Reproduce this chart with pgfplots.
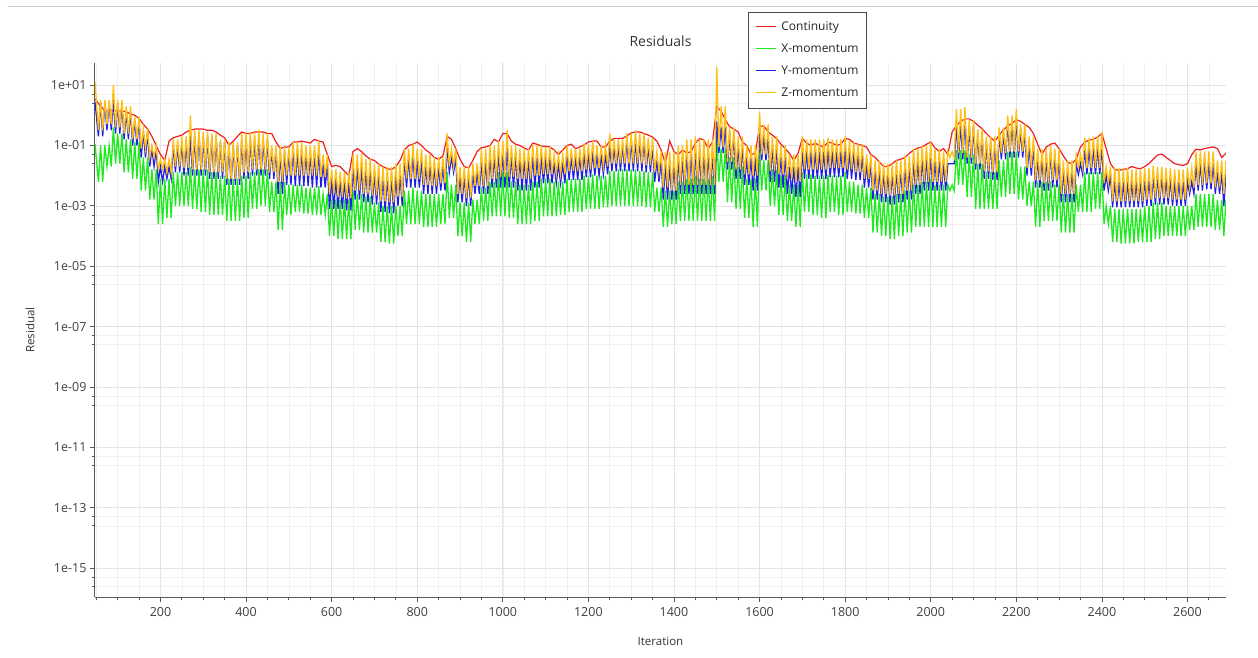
\documentclass[border=0pt]{standalone}
\usepackage{pgfplots}
\pgfplotsset{compat=1.18}
\usepackage{pgfplotstable}
\usepackage{fontspec}
\setmainfont{Open Sans}
\definecolor{cRed}{RGB}{240,30,30}
\definecolor{cGreen}{RGB}{30,235,30}
\definecolor{cBlue}{RGB}{30,30,230}
\definecolor{cOrange}{RGB}{255,190,20}
% Continuity residual
\pgfplotstableread{
it cont
47 3.5
60 2
70 1.4
80 1.4
90 1.4
100 1.4
110 1.4
120 1.3
130 1.1
140 1
150 7.9e-1
160 5e-1
170 3.5e-1
180 2e-1
190 1e-1
200 5e-2
210 3.2e-2
220 1.4e-1
230 1.8e-1
240 2e-1
250 2.2e-1
260 2.8e-1
270 3.2e-1
280 3.5e-1
290 3.5e-1
300 3.5e-1
310 3.2e-1
320 3.2e-1
330 2.8e-1
340 2.2e-1
350 1.8e-1
360 1e-1
370 1.4e-1
380 2e-1
390 2.8e-1
400 2.5e-1
410 2.5e-1
420 2.8e-1
430 2.8e-1
440 2.8e-1
450 2.5e-1
460 2.5e-1
470 1.3e-1
480 7.9e-2
490 8.9e-2
500 8.9e-2
510 1.3e-1
520 1.3e-1
530 1.4e-1
540 1.3e-1
550 1.2e-1
560 1.6e-1
570 1.4e-1
580 1.3e-1
590 5e-2
600 2e-2
610 2.2e-2
620 2e-2
630 1.4e-2
640 1e-2
650 6.3e-2
660 7.9e-2
670 6.3e-2
680 4.5e-2
690 3.5e-2
700 3.2e-2
710 2.4e-2
720 2e-2
730 1.7e-2
740 1.6e-2
750 2e-2
760 3.2e-2
770 7.1e-2
780 1e-1
790 1.1e-1
800 1.3e-1
810 1e-1
820 7.1e-2
830 5.6e-2
840 4e-2
850 3.5e-2
860 4.5e-2
870 2e-1
880 1.6e-1
890 7.9e-2
900 3.5e-2
910 2e-2
920 1.8e-2
930 3.2e-2
940 6.3e-2
950 8.5e-2
960 8.9e-2
970 1e-1
980 1.6e-1
990 1.3e-1
1000 2.5e-1
1010 2.5e-1
1020 1.4e-1
1030 1.1e-1
1040 1e-1
1050 8.3e-2
1060 7.1e-2
1070 1.2e-1
1080 1.1e-1
1090 9.5e-2
1100 9.5e-2
1110 8.9e-2
1120 7.1e-2
1130 5e-2
1140 7.1e-2
1150 1e-1
1160 1.1e-1
1170 7.9e-2
1180 8.9e-2
1190 1.05e-1
1200 1.3e-1
1210 1.4e-1
1220 1.4e-1
1230 8.9e-2
1240 8.9e-2
1250 1.4e-1
1260 1.7e-1
1270 1.7e-1
1280 1.7e-1
1290 2.1e-1
1300 2.6e-1
1310 2.8e-1
1320 2.8e-1
1330 2.5e-1
1340 2.2e-1
1350 1.9e-1
1360 1.4e-1
1370 7.1e-2
1380 2.5e-2
1390 1.4e-1
1400 6.3e-2
1410 5e-2
1420 7.1e-2
1430 5.6e-2
1440 6.3e-2
1450 1.2e-1
1460 1.7e-1
1470 1.5e-1
1480 7.9e-2
1490 1.3e-1
1500 1.9
1510 1.4
1520 7.1e-1
1530 4.2e-1
1540 3.5e-1
1550 2.8e-1
1560 1.3e-1
1570 1e-1
1580 5e-2
1590 5.6e-2
1600 4.2e-1
1610 4.5e-1
1620 2.8e-1
1630 2.2e-1
1640 1.7e-1
1650 1.1e-1
1660 7.9e-2
1670 5.4e-2
1680 3.2e-2
1690 5.6e-2
1700 1.7e-1
1710 1.2e-1
1720 1e-1
1730 1.2e-1
1740 1e-1
1750 8.9e-2
1760 1.3e-1
1770 1.2e-1
1780 1e-1
1790 1.1e-1
1800 1.7e-1
1810 1.6e-1
1820 1.2e-1
1830 1.1e-1
1840 1e-1
1850 8.9e-2
1860 5e-2
1870 4e-2
1880 2.8e-2
1890 2e-2
1900 2e-2
1910 2.5e-2
1920 3.2e-2
1930 3.5e-2
1940 4e-2
1950 5.5e-2
1960 7.1e-2
1970 8.3e-2
1980 8.9e-2
1990 1.1e-1
2000 1.3e-1
2010 8.3e-2
2020 6.3e-2
2030 7.9e-2
2040 5e-2
2050 2.8e-1
2060 4.5e-1
2070 6.3e-1
2080 7.6e-1
2090 7.6e-1
2100 6.3e-1
2110 4.7e-1
2120 3.6e-1
2130 2.5e-1
2140 1.8e-1
2150 1.4e-1
2160 2.2e-1
2170 3.3e-1
2180 4.5e-1
2190 5.4e-1
2200 7.1e-1
2210 6.3e-1
2220 5e-1
2230 4e-1
2240 2.5e-1
2250 1.1e-1
2260 5e-2
2270 8.9e-2
2280 1.1e-1
2290 1.2e-1
2300 7.9e-2
2310 4.5e-2
2320 2.8e-2
2330 2.5e-2
2340 3.5e-2
2350 8.9e-2
2360 1.3e-1
2370 1.5e-1
2380 1.6e-1
2390 1.9e-1
2400 2.5e-1
2410 7.9e-2
2420 2.5e-2
2430 1.6e-2
2440 1.5e-2
2450 1.6e-2
2460 1.7e-2
2470 2e-2
2480 1.8e-2
2490 1.7e-2
2500 2e-2
2510 2.5e-2
2520 3.5e-2
2530 4.8e-2
2540 5.2e-2
2550 4e-2
2560 3.2e-2
2570 2.5e-2
2580 2.3e-2
2590 2.2e-2
2600 2.5e-2
2610 5e-2
2620 7.6e-2
2630 7.1e-2
2640 7.9e-2
2650 8.5e-2
2660 8.9e-2
2670 7.9e-2
2680 4e-2
2690 5.6e-2
}\contres
% Momentum residuals
\pgfplotstableread{
it xmom ymom zmom
47 1.1e-1 2.8 13
55 6.3e-3 2e-1 3.2e-1
60 1e-1 2.8 3.2
65 6.3e-3 2e-1 3.2e-1
70 1e-1 2.8 3.2
75 2e-2 3.2e-1 5e-1
80 1e-1 2.8 3.2
85 2e-2 3.2e-1 5e-1
90 4e-1 3.2 10
95 2.5e-2 2.5e-1 4e-1
100 2.5e-1 2.5 3.2
105 2.5e-2 2.5e-1 4e-1
110 2.5e-1 2.5 3.2
115 1.3e-2 1.6e-1 2.5e-1
120 1.6e-1 1.4 2
125 1.3e-2 1.6e-1 2.5e-1
130 1.6e-1 1.4 2
135 7.9e-3 1e-1 1.6e-1
140 1.3e-1 7.1e-1 8.9e-1
145 7.9e-3 1e-1 1.6e-1
150 1.3e-1 7.1e-1 8.9e-1
155 3.2e-3 4e-2 7.9e-2
160 4e-2 2.8e-1 3.5e-1
165 3.2e-3 4e-2 7.9e-2
170 4e-2 2.8e-1 3.5e-1
175 1.6e-3 2e-2 4e-2
180 1.6e-2 7.9e-2 1e-1
185 1.6e-3 2e-2 4e-2
190 1.6e-2 7.9e-2 1e-1
195 2.5e-4 6.3e-3 1.6e-2
200 7.9e-3 2e-2 3.5e-2
205 2.5e-4 6.3e-3 1.6e-2
210 7.9e-3 2e-2 3.5e-2
215 4e-4 7.9e-3 1.3e-2
220 7.9e-3 2e-2 3.5e-2
225 4e-4 7.9e-3 1.3e-2
230 1.3e-2 1e-1 1.6e-1
235 1e-3 1.3e-2 2e-2
240 1.3e-2 1e-1 1.6e-1
245 1e-3 1.3e-2 2e-2
250 1.3e-2 1.3e-1 2e-1
255 1e-3 1e-2 1.8e-2
260 1.3e-2 1.3e-1 2e-1
265 1e-3 1e-2 1.8e-2
270 2e-2 2e-1 1
275 7.9e-4 1e-2 1.6e-2
280 1.6e-2 2e-1 3.2e-1
285 7.9e-4 1e-2 1.6e-2
290 1.6e-2 2.5e-1 3.2e-1
295 6.3e-4 1e-2 1.6e-2
300 1.6e-2 2e-1 2.8e-1
305 6.3e-4 1e-2 1.6e-2
310 1.6e-2 2e-1 2.8e-1
315 5e-4 7.9e-3 1.3e-2
320 1.3e-2 2e-1 2.5e-1
325 5e-4 7.9e-3 1.3e-2
330 1.3e-2 2e-1 2.5e-1
335 5e-4 7.9e-3 1.3e-2
340 1e-2 1.3e-1 1.6e-1
345 5e-4 7.9e-3 1.3e-2
350 1e-2 1.3e-1 1.6e-1
355 3.2e-4 5e-3 7.9e-3
360 7.9e-3 1e-1 1.3e-1
365 3.2e-4 5e-3 7.9e-3
370 7.9e-3 1e-1 1.3e-1
375 3.2e-4 5e-3 7.9e-3
380 7.9e-3 1e-1 1.3e-1
385 3.2e-4 5e-3 7.9e-3
390 1e-2 1.6e-1 2.5e-1
395 4e-4 7.9e-3 1.3e-2
400 1e-2 1.6e-1 2.5e-1
405 4e-4 7.9e-3 1.3e-2
410 1.3e-2 1.6e-1 2.8e-1
415 7.9e-4 1e-2 1.6e-2
420 1.3e-2 1.6e-1 2.8e-1
425 7.9e-4 1e-2 1.6e-2
430 1.6e-2 2e-1 3.2e-1
435 1e-3 1e-2 1.6e-2
440 1.6e-2 1.6e-1 2.5e-1
445 1e-3 1e-2 1.6e-2
450 1.6e-2 1.6e-1 2.5e-1
455 6.3e-4 7.9e-3 1.3e-2
460 6.3e-3 7.9e-2 1e-1
465 6.3e-4 7.9e-3 1.3e-2
470 6.3e-3 7.9e-2 1e-1
475 1.6e-4 2.5e-3 6.3e-3
480 6.3e-3 6.3e-2 8.9e-2
485 1.6e-4 2.5e-3 6.3e-3
490 6.3e-3 6.3e-2 8.9e-2
495 5e-4 5e-3 1e-2
500 5e-3 6.3e-2 8.9e-2
505 5e-4 5e-3 1e-2
510 5e-3 7.9e-2 1.3e-1
515 6.3e-4 4.5e-3 1e-2
520 5e-3 7.1e-2 1.3e-1
525 6.3e-4 4.5e-3 1e-2
530 5e-3 7.1e-2 1.3e-1
535 5.6e-4 4.5e-3 1e-2
540 4e-3 6.3e-2 1e-1
545 5.6e-4 4.5e-3 1e-2
550 4e-3 6.3e-2 1e-1
555 5e-4 4e-3 1e-2
560 4e-3 6.3e-2 1e-1
565 5e-4 4e-3 1e-2
570 4.5e-3 7.1e-2 1.4e-1
575 5e-4 4e-3 8.9e-3
580 2.5e-3 2.5e-2 5e-2
585 5e-4 4e-3 8.9e-3
590 2.5e-3 2.5e-2 5e-2
595 1e-4 7.9e-4 2.5e-3
600 1.6e-3 7.9e-3 1.6e-2
605 1e-4 7.9e-4 2.5e-3
610 1.6e-3 7.9e-3 1.6e-2
615 7.9e-5 7.9e-4 2e-3
620 1.6e-3 7.1e-3 1.3e-2
625 7.9e-5 7.9e-4 2e-3
630 1.6e-3 7.1e-3 1.3e-2
635 7.9e-5 7.1e-4 1.8e-3
640 1.6e-3 7.1e-3 1.3e-2
645 7.9e-5 7.1e-4 1.8e-3
650 3.2e-3 2e-2 5e-2
655 1.6e-4 1.6e-3 3.2e-3
660 2.5e-3 2e-2 5e-2
665 1.6e-4 1.6e-3 3.2e-3
670 2.5e-3 2e-2 5.6e-2
675 1.3e-4 1.3e-3 2.5e-3
680 2e-3 1.6e-2 3.5e-2
685 1.3e-4 1.3e-3 2.5e-3
690 2e-3 1.6e-2 3.5e-2
695 1.3e-4 1.1e-3 2.2e-3
700 1.3e-3 1.3e-2 2.5e-2
705 1.3e-4 1.1e-3 2.2e-3
710 1.3e-3 1.3e-2 2.5e-2
715 6.3e-5 6.3e-4 1.4e-3
720 1e-3 1e-2 2e-2
725 6.3e-5 6.3e-4 1.4e-3
730 1e-3 1e-2 2e-2
735 5.6e-5 5.6e-4 1.3e-3
740 1e-3 1e-2 2e-2
745 5.6e-5 5.6e-4 1.3e-3
750 1e-3 1e-2 2.5e-2
755 1e-4 1e-3 2e-3
760 1e-3 1e-2 2.5e-2
765 1e-4 1e-3 2e-3
770 3.2e-3 4e-2 7.9e-2
775 2.5e-4 4e-3 7.9e-3
780 3.2e-3 4e-2 7.9e-2
785 2.5e-4 4e-3 7.9e-3
790 4e-3 5e-2 1.1e-1
795 2.5e-4 4e-3 7.9e-3
800 3.2e-3 3.2e-2 7.9e-2
805 2.5e-4 4e-3 7.9e-3
810 3.2e-3 3.2e-2 7.9e-2
815 2e-4 2.5e-3 5e-3
820 2.5e-3 2.5e-2 5e-2
825 2e-4 2.5e-3 5e-3
830 2.5e-3 2.5e-2 5e-2
835 2e-4 2.5e-3 4.5e-3
840 2.5e-3 2e-2 4e-2
845 2e-4 2.5e-3 4.5e-3
850 2.5e-3 2e-2 4e-2
855 2.5e-4 3.2e-3 5.6e-3
860 2.5e-3 2e-2 4e-2
865 2.5e-4 3.2e-3 5.6e-3
870 1.3e-2 1e-1 2.5e-1
875 4e-4 1.3e-2 2e-2
880 5e-3 4e-2 7.9e-2
885 4e-4 1.3e-2 2e-2
890 5e-3 4e-2 7.9e-2
895 1e-4 1.3e-3 2.5e-3
900 1.3e-3 1e-2 2e-2
905 1e-4 1.3e-3 2.5e-3
910 1.3e-3 1e-2 2e-2
915 6.3e-5 1e-3 1.8e-3
920 1.3e-3 1e-2 2e-2
925 6.3e-5 1e-3 1.8e-3
930 1.6e-3 1.3e-2 2.5e-2
935 2.5e-4 2.5e-3 4.5e-3
940 1.6e-3 1.3e-2 2.5e-2
945 2.5e-4 2.5e-3 4.5e-3
950 4e-3 3.2e-2 7.9e-2
955 3.2e-4 2.5e-3 4.5e-3
960 4e-3 3.2e-2 7.9e-2
965 3.2e-4 2.5e-3 4.5e-3
970 6.3e-3 5e-2 1e-1
975 4.5e-4 4e-3 7.9e-3
980 6.3e-3 5e-2 1e-1
985 4.5e-4 4e-3 7.9e-3
990 1.3e-2 6.3e-2 1.4e-1
995 4.5e-4 4e-3 8.9e-3
1000 1.3e-2 6.3e-2 1.4e-1
1005 4.5e-4 4e-3 8.9e-3
1010 1.3e-2 1e-1 3.2e-1
1015 4e-4 4e-3 8.9e-3
1020 6.3e-3 5e-2 1e-1
1025 4e-4 4e-3 8.9e-3
1030 6.3e-3 5e-2 1e-1
1035 2.5e-4 3.2e-3 7.9e-3
1040 5e-3 4e-2 7.9e-2
1045 2.5e-4 3.2e-3 7.9e-3
1050 5e-3 4e-2 7.9e-2
1055 2.5e-4 3.2e-3 7.9e-3
1060 5e-3 4e-2 7.9e-2
1065 2.5e-4 3.2e-3 7.9e-3
1070 6.3e-3 5e-2 1.1e-1
1075 3.2e-4 4e-3 1e-2
1080 6.3e-3 4.5e-2 1e-1
1085 3.2e-4 4e-3 1e-2
1090 7.9e-3 4.5e-2 1e-1
1095 4.5e-4 5.6e-3 1.1e-2
1100 7.9e-3 4e-2 8.9e-2
1105 4.5e-4 5.6e-3 1.1e-2
1110 7.9e-3 4e-2 8.9e-2
1115 4.5e-4 5.6e-3 1.1e-2
1120 6.3e-3 2.5e-2 5e-2
1125 4.5e-4 5.6e-3 1.1e-2
1130 6.3e-3 2.5e-2 5e-2
1135 5e-4 5.6e-3 1.1e-2
1140 6.3e-3 2.5e-2 5e-2
1145 5e-4 5.6e-3 1.1e-2
1150 7.9e-3 5e-2 1e-1
1155 6.3e-4 7.1e-3 1.4e-2
1160 7.9e-3 4.5e-2 7.9e-2
1165 6.3e-4 7.1e-3 1.4e-2
1170 7.9e-3 4.5e-2 7.9e-2
1175 6.3e-4 7.1e-3 1.4e-2
1180 7.9e-3 4.5e-2 7.9e-2
1185 6.3e-4 7.1e-3 1.4e-2
1190 1e-2 5.6e-2 1.1e-1
1195 7.9e-4 8.9e-3 1.6e-2
1200 1e-2 5.6e-2 1.1e-1
1205 7.9e-4 8.9e-3 1.6e-2
1210 1.1e-2 6.3e-2 1.4e-1
1215 7.9e-4 1e-2 1.8e-2
1220 1e-2 5e-2 1e-1
1225 7.9e-4 1e-2 1.8e-2
1230 1e-2 5e-2 1e-1
1235 8.9e-4 1.1e-2 2e-2
1240 1e-2 5e-2 1e-1
1245 8.9e-4 1.1e-2 2e-2
1250 1.4e-2 1e-1 2.5e-1
1255 1e-3 1.4e-2 2.5e-2
1260 1.4e-2 1e-1 1.6e-1
1265 1e-3 1.4e-2 2.5e-2
1270 1.6e-2 1.1e-1 1.6e-1
1275 1e-3 1.4e-2 2.5e-2
1280 1.6e-2 1.1e-1 1.6e-1
1285 1e-3 1.4e-2 2.5e-2
1290 1.6e-2 1.6e-1 2.5e-1
1295 1e-3 1.4e-2 2.5e-2
1300 1.6e-2 1.6e-1 2.5e-1
1305 1e-3 1.4e-2 2.5e-2
1310 1.6e-2 1.6e-1 3.2e-1
1315 1e-3 1.4e-2 2.5e-2
1320 1.4e-2 1.6e-1 2.5e-1
1325 1e-3 1.4e-2 2.5e-2
1330 1.4e-2 1.6e-1 2.5e-1
1335 8.9e-4 1.3e-2 2.2e-2
1340 1.3e-2 1e-1 1.8e-1
1345 8.9e-4 1.3e-2 2.2e-2
1350 1.3e-2 1e-1 1.8e-1
1355 6.3e-4 6.3e-3 1.3e-2
1360 4e-3 3.2e-2 6.3e-2
1365 6.3e-4 6.3e-3 1.3e-2
1370 4e-3 3.2e-2 6.3e-2
1375 2e-4 1.6e-3 4e-3
1380 3.2e-3 2.5e-2 6.3e-2
1385 2e-4 1.6e-3 4e-3
1390 3.2e-3 2.5e-2 6.3e-2
1395 2.5e-4 1.6e-3 3.2e-3
1400 3.2e-3 2.5e-2 6.3e-2
1405 2.5e-4 1.6e-3 3.2e-3
1410 6.3e-3 4e-2 1e-1
1415 3.2e-4 2.5e-3 5e-3
1420 6.3e-3 4e-2 1e-1
1425 3.2e-4 2.5e-3 5e-3
1430 7.9e-3 6.3e-2 1.6e-1
1435 3.2e-4 2.5e-3 5e-3
1440 7.9e-3 6.3e-2 1.6e-1
1445 3.2e-4 2.5e-3 5e-3
1450 1e-2 7.9e-2 2e-1
1455 3.2e-4 2.5e-3 5e-3
1460 7.9e-3 6.3e-2 1.6e-1
1465 3.2e-4 2.5e-3 5e-3
1470 7.9e-3 6.3e-2 1.6e-1
1475 3.2e-4 2.5e-3 5e-3
1480 7.9e-3 6.3e-2 1.6e-1
1485 3.2e-4 2.5e-3 5e-3
1490 1e-2 6.3e-2 1.6e-1
1495 3.2e-4 2.5e-3 5e-3
1500 2e-1 6.3e-1 40
1505 6.3e-3 5.6e-2 8.9e-2
1510 7.9e-2 4e-1 2
1515 6.3e-3 5.6e-2 8.9e-2
1520 7.9e-2 4e-1 2
1525 1.3e-3 1.6e-2 2.8e-2
1530 4e-2 2.5e-1 4e-1
1535 1.3e-3 1.6e-2 2.8e-2
1540 4e-2 2.5e-1 4e-1
1545 7.9e-4 7.9e-3 1.6e-2
1550 2e-2 1e-1 2e-1
1555 7.9e-4 7.9e-3 1.6e-2
1560 2e-2 1e-1 2e-1
1565 4e-4 5e-3 1.1e-2
1570 7.9e-3 4e-2 1e-1
1575 4e-4 5e-3 1.1e-2
1580 7.9e-3 4e-2 1e-1
1585 2e-4 3.2e-3 1e-2
1590 7.9e-3 4e-2 1e-1
1595 2e-4 3.2e-3 1e-2
1600 7.1e-2 2.5e-1 1.3
1605 3.2e-3 3.2e-2 5e-2
1610 3.2e-2 2e-1 5e-1
1615 3.2e-3 3.2e-2 5e-2
1620 3.2e-2 2e-1 5e-1
1625 1e-3 6.3e-3 1.4e-2
1630 1.6e-2 1e-1 2e-1
1635 1e-3 6.3e-3 1.4e-2
1640 1.6e-2 1e-1 2e-1
1645 5e-4 4e-3 1.1e-2
1650 1e-2 5e-2 1e-1
1655 5e-4 4e-3 1.1e-2
1660 1e-2 5e-2 1e-1
1665 3.2e-4 2.5e-3 7.9e-3
1670 5e-3 2e-2 5e-2
1675 3.2e-4 2.5e-3 7.9e-3
1680 5e-3 2e-2 5e-2
1685 2e-4 2e-3 6.3e-3
1690 5e-3 2e-2 5e-2
1695 2e-4 2e-3 6.3e-3
1700 1.3e-2 7.9e-2 2e-1
1705 6.3e-4 7.9e-3 1.6e-2
1710 1.1e-2 6.3e-2 1.6e-1
1715 6.3e-4 7.9e-3 1.6e-2
1720 1.1e-2 6.3e-2 1.6e-1
1725 5e-4 7.9e-3 1.6e-2
1730 1e-2 6.3e-2 1.6e-1
1735 5e-4 7.9e-3 1.6e-2
1740 1e-2 6.3e-2 1.6e-1
1745 4e-4 7.9e-3 1.6e-2
1750 1e-2 6.3e-2 1.6e-1
1755 4e-4 7.9e-3 1.6e-2
1760 1.1e-2 7.1e-2 1.8e-1
1765 6.3e-4 8.9e-3 1.8e-2
1770 1e-2 6.3e-2 1.6e-1
1775 6.3e-4 8.9e-3 1.8e-2
1780 1e-2 6.3e-2 1.6e-1
1785 5e-4 8.9e-3 1.8e-2
1790 1e-2 6.3e-2 1.6e-1
1795 5e-4 8.9e-3 1.8e-2
1800 1.3e-2 7.9e-2 2e-1
1805 6.3e-4 7.9e-3 1.6e-2
1810 6.3e-3 6.3e-2 1.4e-1
1815 6.3e-4 7.9e-3 1.6e-2
1820 6.3e-3 6.3e-2 1.4e-1
1825 5.6e-4 7.1e-3 1.3e-2
1830 5e-3 5e-2 1.1e-1
1835 5.6e-4 7.1e-3 1.3e-2
1840 5e-3 5e-2 1.1e-1
1845 4e-4 4e-3 7.9e-3
1850 4e-3 2.5e-2 5e-2
1855 4e-4 4e-3 7.9e-3
1860 4e-3 2.5e-2 5e-2
1865 1.3e-4 1.6e-3 3.2e-3
1870 2.5e-3 1.6e-2 3.2e-2
1875 1.3e-4 1.6e-3 3.2e-3
1880 2.5e-3 1.6e-2 3.2e-2
1885 1e-4 1.3e-3 2.5e-3
1890 2e-3 1.3e-2 2.5e-2
1895 1e-4 1.3e-3 2.5e-3
1900 2e-3 1.3e-2 2.5e-2
1905 7.9e-5 1.1e-3 2.2e-3
1910 2e-3 1.3e-2 2.5e-2
1915 7.9e-5 1.1e-3 2.2e-3
1920 2.5e-3 1.6e-2 3.2e-2
1925 1e-4 1.3e-3 2.5e-3
1930 2.5e-3 1.6e-2 3.2e-2
1935 1e-4 1.3e-3 2.5e-3
1940 3.2e-3 2e-2 4.5e-2
1945 1.3e-4 1.6e-3 3.2e-3
1950 3.2e-3 2e-2 4.5e-2
1955 1.3e-4 1.6e-3 3.2e-3
1960 5e-3 3.2e-2 7.9e-2
1965 2e-4 2.5e-3 5e-3
1970 5e-3 3.2e-2 7.9e-2
1975 2e-4 2.5e-3 5e-3
1980 6.3e-3 4e-2 1e-1
1985 2e-4 3.2e-3 6.3e-3
1990 6.3e-3 4e-2 1e-1
1995 2e-4 3.2e-3 6.3e-3
2000 7.9e-3 5e-2 1.3e-1
2005 2e-4 3.2e-3 6.3e-3
2010 5e-3 3.2e-2 7.9e-2
2015 2e-4 3.2e-3 6.3e-3
2020 5e-3 3.2e-2 7.9e-2
2025 2e-4 3.2e-3 6.3e-3
2030 5e-3 2.5e-2 6.3e-2
2035 2e-4 3.2e-3 6.3e-3
2040 5e-3 2.5e-2 6.3e-2
2045 3.2e-3 2.5e-2 4e-2
2050 5e-3 2.5e-2 6.3e-2
2055 3.2e-3 2.5e-2 4e-2
2060 7.1e-2 5e-1 1.6
2065 5e-3 3.5e-2 5.6e-2
2070 7.1e-2 5e-1 1.6
2075 5e-3 3.5e-2 5.6e-2
2080 7.1e-2 7.1e-1 1.9
2085 2e-3 2.5e-2 4e-2
2090 5e-2 4.5e-1 7.1e-1
2095 2e-3 2.5e-2 4e-2
2100 5e-2 4.5e-1 7.1e-1
2105 7.9e-4 1.6e-2 2.5e-2
2110 2.5e-2 2.5e-1 3.5e-1
2115 7.9e-4 1.6e-2 2.5e-2
2120 2.5e-2 2.5e-1 3.5e-1
2125 7.9e-4 7.9e-3 1.4e-2
2130 1.3e-2 1.3e-1 2e-1
2135 7.9e-4 7.9e-3 1.4e-2
2140 1.3e-2 1.3e-1 2e-1
2145 7.9e-4 7.1e-3 1.3e-2
2150 1.3e-2 1.3e-1 2e-1
2155 7.9e-4 7.1e-3 1.3e-2
2160 3.2e-2 2.5e-1 4e-1
2165 2e-3 3.5e-2 5.6e-2
2170 3.2e-2 2.5e-1 4e-1
2175 2e-3 3.5e-2 5.6e-2
2180 6.3e-2 6.3e-1 1
2185 2.5e-3 4e-2 6.3e-2
2190 6.3e-2 6.3e-1 1
2195 2.5e-3 4e-2 6.3e-2
2200 6.3e-2 7.9e-1 1.6
2205 1.6e-3 4e-2 6.3e-2
2210 2e-2 3.2e-1 5e-1
2215 1.6e-3 4e-2 6.3e-2
2220 2e-2 3.2e-1 5e-1
2225 1e-3 1e-2 1.8e-2
2230 6.3e-3 1e-1 2e-1
2235 1e-3 1e-2 1.8e-2
2240 6.3e-3 1e-1 2e-1
2245 2e-4 4e-3 7.1e-3
2250 6.3e-3 4e-2 7.9e-2
2255 2e-4 4e-3 7.1e-3
2260 6.3e-3 4e-2 7.9e-2
2265 3.2e-4 3.2e-3 5.6e-3
2270 6.3e-3 4e-2 7.9e-2
2275 3.2e-4 3.2e-3 5.6e-3
2280 6.3e-3 6.3e-2 1e-1
2285 3.2e-4 4e-3 7.1e-3
2290 5e-3 4e-2 7.9e-2
2295 3.2e-4 4e-3 7.1e-3
2300 5e-3 4e-2 7.9e-2
2305 1.3e-4 1.3e-3 2.5e-3
2310 2.5e-3 1.6e-2 3.2e-2
2315 1.3e-4 1.3e-3 2.5e-3
2320 2.5e-3 1.6e-2 3.2e-2
2325 1.3e-4 1.3e-3 2.5e-3
2330 2.5e-3 1.6e-2 3.2e-2
2335 1.3e-4 1.3e-3 2.5e-3
2340 5e-3 2.5e-2 5e-2
2345 6.3e-4 1.1e-2 1.8e-2
2350 5e-3 2.5e-2 5e-2
2355 6.3e-4 1.1e-2 1.8e-2
2360 1.3e-2 7.9e-2 1.8e-1
2365 6.3e-4 1.1e-2 1.8e-2
2370 1.3e-2 7.9e-2 1.8e-1
2375 6.3e-4 1.1e-2 1.8e-2
2380 1.3e-2 7.9e-2 2e-1
2385 7.9e-4 1.1e-2 1.8e-2
2390 1.3e-2 7.9e-2 2e-1
2395 7.9e-4 1.1e-2 1.8e-2
2400 1.3e-2 1e-1 2.8e-1
2405 2.5e-4 3.2e-3 5.6e-3
2410 1e-3 1e-2 2e-2
2415 2.5e-4 3.2e-3 5.6e-3
2420 1e-3 1e-2 2e-2
2425 6.3e-5 8.9e-4 1.4e-3
2430 7.9e-4 6.3e-3 1.8e-2
2435 6.3e-5 8.9e-4 1.4e-3
2440 7.9e-4 6.3e-3 1.8e-2
2445 5.6e-5 8.9e-4 1.4e-3
2450 7.9e-4 6.3e-3 1.8e-2
2455 5.6e-5 8.9e-4 1.4e-3
2460 7.9e-4 6.3e-3 1.8e-2
2465 5.6e-5 8.9e-4 1.4e-3
2470 7.9e-4 6.3e-3 1.6e-2
2475 5.6e-5 8.9e-4 1.4e-3
2480 7.9e-4 6.3e-3 1.6e-2
2485 6.3e-5 8.9e-4 1.4e-3
2490 7.9e-4 6.3e-3 1.6e-2
2495 6.3e-5 8.9e-4 1.4e-3
2500 1e-3 7.9e-3 1.8e-2
2505 6.3e-5 1e-3 1.6e-3
2510 1e-3 7.9e-3 1.8e-2
2515 6.3e-5 1e-3 1.6e-3
2520 1.3e-3 1e-2 2.2e-2
2525 7.9e-5 1.1e-3 1.8e-3
2530 1.3e-3 1e-2 2e-2
2535 7.9e-5 1.1e-3 1.8e-3
2540 1.3e-3 1e-2 2e-2
2545 1e-4 1.1e-3 1.8e-3
2550 1e-3 7.9e-3 1.8e-2
2555 1e-4 1.1e-3 1.8e-3
2560 1e-3 7.9e-3 1.8e-2
2565 1e-4 1e-3 1.6e-3
2570 1e-3 6.3e-3 1.6e-2
2575 1e-4 1e-3 1.6e-3
2580 1e-3 6.3e-3 1.6e-2
2585 1e-4 1e-3 1.6e-3
2590 1e-3 6.3e-3 1.6e-2
2595 1e-4 1e-3 1.6e-3
2600 1e-3 6.3e-3 1.8e-2
2605 1.6e-4 2.5e-3 4e-3
2610 1e-3 6.3e-3 1.8e-2
2615 1.6e-4 2.5e-3 4e-3
2620 2.5e-3 2.5e-2 6.3e-2
2625 2e-4 3.2e-3 5e-3
2630 2.5e-3 2.5e-2 6.3e-2
2635 2e-4 3.2e-3 5e-3
2640 2.5e-3 3.2e-2 6.3e-2
2645 2e-4 3.5e-3 5.6e-3
2650 2.5e-3 2.5e-2 6.3e-2
2655 2e-4 3.5e-3 5.6e-3
2660 2.5e-3 2.5e-2 6.3e-2
2665 1.6e-4 2.5e-3 4e-3
2670 1.6e-3 1.3e-2 3.2e-2
2675 1.6e-4 2.5e-3 4e-3
2680 1.6e-3 1.3e-2 3.2e-2
2685 1e-4 1e-3 2.5e-3
2690 1.6e-3 1.3e-2 3.2e-2
}\momres
\newcommand{\legline}[1]{\textcolor{#1}{\rule[0.28em]{20pt}{1.1pt}}}
\begin{document}
\begin{tikzpicture}
\useasboundingbox (-95pt,-60pt) rectangle (1163pt,597pt);
\draw[black!22, line width=1pt] (-87pt,590pt) -- (1163pt,590pt);
\begin{axis}[
  at={(0pt,0pt)}, anchor=south west,
  width=1131pt, height=534pt, scale only axis,
  xmin=47, xmax=2690,
  ymode=log, ymin=1.1e-16, ymax=54,
  axis lines=left,
  axis line style={-, black!65, line width=1pt},
  tick align=outside,
  major tick length=5pt, minor tick length=3pt,
  tick style={black!65, line width=0.8pt},
  xtick={200,400,...,2600},
  xticklabels={200,400,600,800,1000,1200,1400,1600,1800,2000,2200,2400,2600},
  minor xtick={50,100,...,2650},
  ytick={1e1,1e-1,1e-3,1e-5,1e-7,1e-9,1e-11,1e-13,1e-15},
  yticklabels={1e+01,1e-01,1e-03,1e-05,1e-07,1e-09,1e-11,1e-13,1e-15},
  minor ytick={5,2.5,5e-2,2.5e-2,5e-4,2.5e-4,5e-6,2.5e-6,5e-8,2.5e-8,5e-10,2.5e-10,5e-12,2.5e-12,5e-14,2.5e-14,5e-16,2.5e-16},
  grid=both,
  major grid style={black!11, line width=0.7pt},
  minor grid style={black!6, line width=0.6pt},
  tick label style={font=\fontsize{12.5}{14}\selectfont, text=black!75},
  xticklabel style={yshift=-2pt},
  title={Residuals},
  title style={at={(axis description cs:0.5,1.030)}, anchor=center, font=\fontsize{14}{16}\selectfont, text=black!80},
  xlabel={Iteration},
  xlabel style={at={(axis description cs:0.5,-0.0824)}, anchor=center, font=\fontsize{11.5}{14}\selectfont, text=black!80},
  ylabel={Residual},
  ylabel style={at={(axis description cs:-0.0575,0.5)}, anchor=center, font=\fontsize{11.5}{14}\selectfont, text=black!80},
]
\addplot[color=cRed, line width=1.2pt] table[x=it, y=cont]{\contres};
\addplot[color=cGreen, line width=1.3pt] table[x=it, y=xmom]{\momres};
\addplot[color=cBlue, line width=1.3pt] table[x=it, y=ymom]{\momres};
\addplot[color=cOrange, line width=1.3pt] table[x=it, y=zmom]{\momres};
\end{axis}
% legend box (placed at the legend position of the reference)
\node[draw=black!70, line width=0.8pt, fill=white, anchor=north west, inner xsep=8pt, inner ysep=8pt,
  font=\fontsize{12}{14}\selectfont, text=black!85] at (653pt,585pt) {%
  \begin{tabular}{@{}l@{\hspace{5pt}}l@{}}
  \legline{cRed} & Continuity\\[8pt]
  \legline{cGreen} & X-momentum\\[8pt]
  \legline{cBlue} & Y-momentum\\[8pt]
  \legline{cOrange} & Z-momentum
  \end{tabular}};
\end{tikzpicture}
\end{document}
